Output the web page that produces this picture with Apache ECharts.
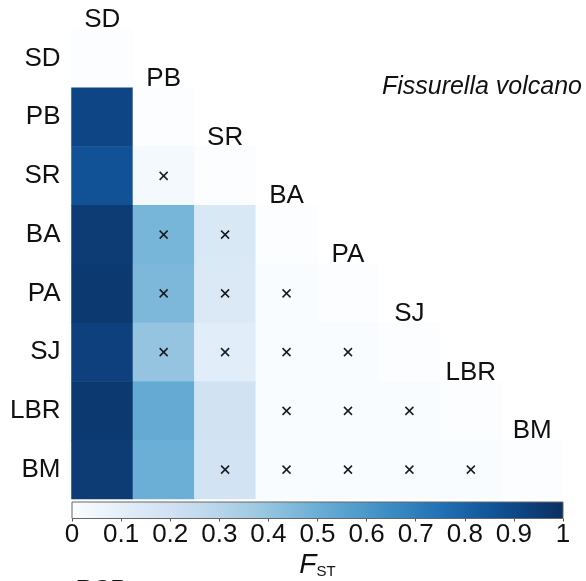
<!DOCTYPE html>
<html><head><meta charset="utf-8">
<script src="https://cdn.jsdelivr.net/npm/echarts@6/dist/echarts.min.js"></script>
<style>html,body{margin:0;padding:0;background:#fff}#c{width:586px;height:581px}</style>
</head><body><div id="c"></div>
<script>
const populations = ['SD','PB','SR','BA','PA','SJ','LBR','BM'];
// Pairwise FST, lower triangle: each row vs. the populations before it (last entry = diagonal)
const fstSD  = [0];
const fstPB  = [0.91, 0];
const fstSR  = [0.86, 0.03, 0];
const fstBA  = [0.95, 0.47, 0.15, 0];
const fstPA  = [0.96, 0.455, 0.14, 0.01, 0];
const fstSJ  = [0.93, 0.40, 0.11, 0.01, 0.01, 0];
const fstLBR = [0.96, 0.52, 0.195, 0.01, 0.01, 0.01, 0];
const fstBM  = [0.95, 0.50, 0.19, 0.01, 0.01, 0.01, 0.01, 0];
const fstRows = [fstSD, fstPB, fstSR, fstBA, fstPA, fstSJ, fstLBR, fstBM];
// Non-significant comparisons [column, row]
const nonSignificant = [
  ['PB','SR'],
  ['PB','BA'],['SR','BA'],
  ['PB','PA'],['SR','PA'],['BA','PA'],
  ['PB','SJ'],['SR','SJ'],['BA','SJ'],['PA','SJ'],
  ['BA','LBR'],['PA','LBR'],['SJ','LBR'],
  ['SR','BM'],['BA','BM'],['PA','BM'],['SJ','BM'],['LBR','BM']
];
const colorbarRange = [0, 1];
const colorbarStep = 0.1;
const title = 'Fissurella volcano';

const blues = ['#fbfdff','#deebf7','#c6dbef','#9ecae1','#6baed6','#4292c6','#2171b5','#0f4e92','#0b2f60'];
const FONT = '"Liberation Sans", Arial, sans-serif';

const heatData = [];
fstRows.forEach((row, r) => row.forEach((v, c) => heatData.push([c, r, v])));
const markData = nonSignificant.map(p => [populations.indexOf(p[0]), populations.indexOf(p[1])]);
const diagData = populations.map((p, i) => [i, i, p]);

const chart = echarts.init(document.getElementById('c'), null, {renderer: 'canvas'});
chart.setOption({
  backgroundColor: '#fff',
  animation: false,
  title: {
    text: title, right: -1, top: 70,
    textStyle: {fontFamily: FONT, fontStyle: 'italic', fontWeight: 'normal', fontSize: 25, color: '#111'}
  },
  grid: [
    {left: 71.5, top: 29, width: 491.5, height: 470, containLabel: false, outerBoundsMode: 'none'},
    {left: 72, top: 502, width: 491, height: 16.5, containLabel: false, outerBoundsMode: 'none'}
  ],
  xAxis: [
    {type: 'category', data: populations, gridIndex: 0, show: false},
    {type: 'value', gridIndex: 1, min: colorbarRange[0], max: colorbarRange[1], interval: colorbarStep,
     axisLine: {show: false}, splitLine: {show: false},
     axisTick: {show: true, length: 3, lineStyle: {color: '#555', width: 1}},
     axisLabel: {fontFamily: FONT, fontSize: 26, color: '#111', margin: 3},
     name: '{f|F}{s|ST}', nameLocation: 'middle', nameGap: 33,
     nameTextStyle: {rich: {
       f: {fontFamily: FONT, fontStyle: 'italic', fontSize: 28, color: '#111'},
       s: {fontFamily: FONT, fontSize: 15, color: '#111', padding: [12, 0, 0, 0]}
     }}}
  ],
  yAxis: [
    {type: 'category', data: populations, gridIndex: 0, inverse: true,
     axisLine: {show: false}, axisTick: {show: false}, splitLine: {show: false},
     axisLabel: {fontFamily: FONT, fontSize: 26, color: '#111', margin: 11, padding: [0, 0, 4, 0]}},
    {type: 'value', gridIndex: 1, min: 0, max: 1, show: false}
  ],
  visualMap: {
    show: false, min: colorbarRange[0], max: colorbarRange[1], seriesIndex: 0,
    inRange: {color: blues}
  },
  series: [
    {type: 'heatmap', xAxisIndex: 0, yAxisIndex: 0, data: heatData, itemStyle: {borderWidth: 0}},
    {type: 'custom', xAxisIndex: 0, yAxisIndex: 0, data: markData, z: 5,
     renderItem: function (params, api) {
       const p = api.coord([api.value(0), api.value(1)]);
       const h = 4;
       return {type: 'group', children: [
         {type: 'line', shape: {x1: p[0]-h, y1: p[1]-h, x2: p[0]+h, y2: p[1]+h}, style: {stroke: '#1a1a1a', lineWidth: 1.5}},
         {type: 'line', shape: {x1: p[0]-h, y1: p[1]+h, x2: p[0]+h, y2: p[1]-h}, style: {stroke: '#1a1a1a', lineWidth: 1.5}}
       ]};
     }},
    {type: 'custom', xAxisIndex: 0, yAxisIndex: 0, data: diagData, z: 6,
     renderItem: function (params, api) {
       const p = api.coord([api.value(0), api.value(1)]);
       const s = api.size([1, 1]);
       return {type: 'text', style: {
         text: populations[api.value(0)], x: p[0], y: p[1] - s[1] / 2 + 4,
         align: 'center', verticalAlign: 'bottom',
         font: '26px ' + FONT, fill: '#111'
       }};
     }},
    {type: 'custom', xAxisIndex: 1, yAxisIndex: 1, data: [[colorbarRange[0], colorbarRange[1]]], z: 3,
     renderItem: function (params, api) {
       const a = api.coord([api.value(0), 0]);
       const b = api.coord([api.value(1), 1]);
       const stops = blues.map((c, i) => ({offset: i / (blues.length - 1), color: c}));
       return {type: 'rect', shape: {x: a[0], y: b[1], width: b[0] - a[0], height: a[1] - b[1]},
         style: {fill: new echarts.graphic.LinearGradient(0, 0, 1, 0, stops), stroke: '#666', lineWidth: 1}};
     }}
  ],
  graphic: [
    {type: 'text', left: 76, top: 578, style: {text: 'BCP', font: 'bold 24px ' + FONT, fill: '#111'}}
  ]
});
</script></body></html>
